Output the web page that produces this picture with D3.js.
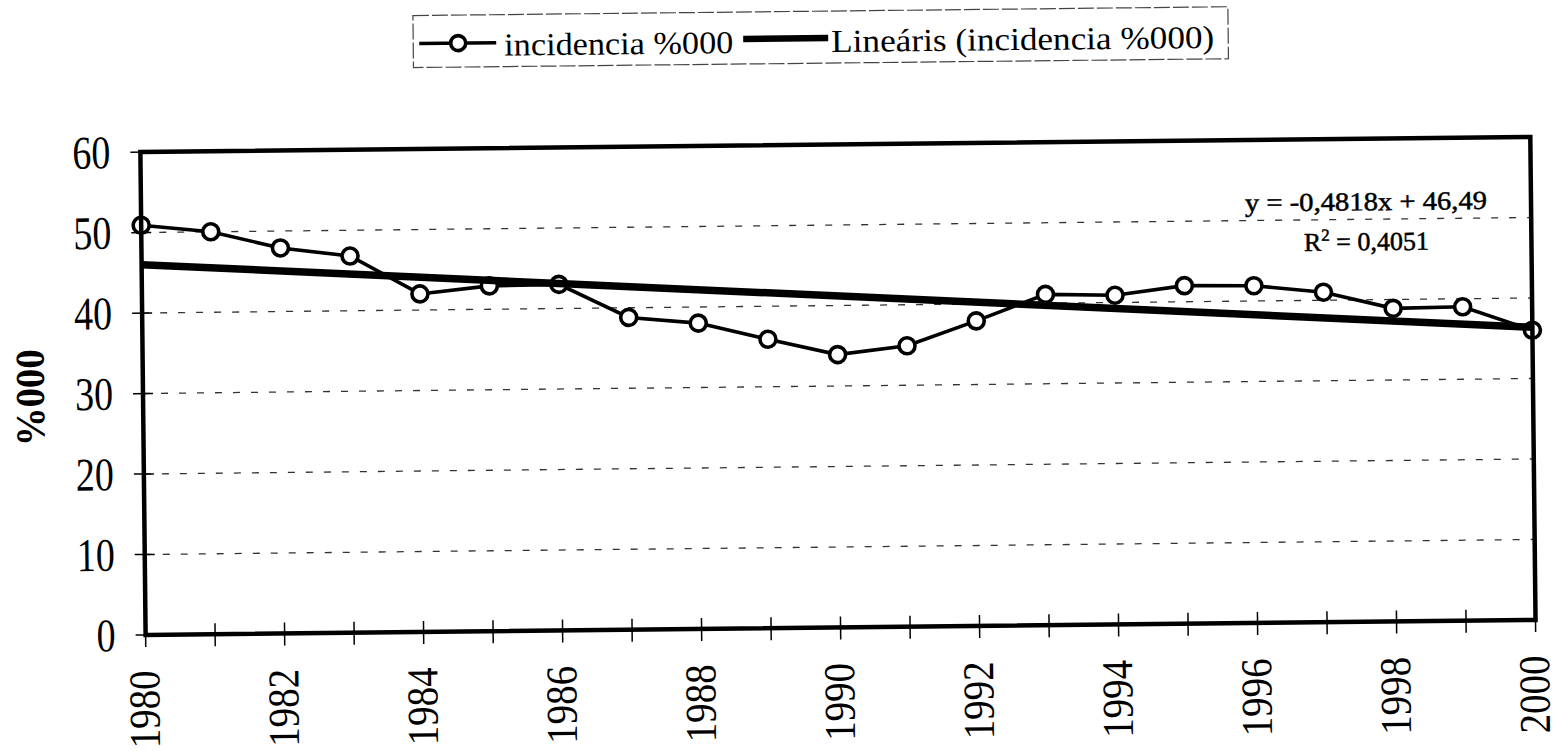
<!DOCTYPE html>
<html>
<head>
<meta charset="utf-8">
<script src="https://cdn.jsdelivr.net/npm/d3@7"></script>
<style>
  body { margin: 0; background: #fff; }
  text { font-family: "Liberation Serif", "Times New Roman", serif; fill: #000; }
</style>
</head>
<body>
<div id="vis"></div>
<script>
// Data
const years = [1980, 1981, 1982, 1983, 1984, 1985, 1986, 1987, 1988, 1989, 1990,
               1991, 1992, 1993, 1994, 1995, 1996, 1997, 1998, 1999, 2000];
const incidence = [50.9, 50.0, 47.9, 46.8, 42.0, 42.9, 43.0, 38.8, 38.0, 35.9, 33.9,
                   34.9, 37.9, 41.1, 40.9, 42.0, 41.9, 41.0, 38.9, 39.0, 36.0];
const yTicks = [0, 10, 20, 30, 40, 50, 60];
const xLabels = [1980, 1982, 1984, 1986, 1988, 1990, 1992, 1994, 1996, 1998, 2000];
// Excel linear trendline (x = 1..21)
const trendSlope = -0.4818, trendIntercept = 46.49;
const seriesName = 'incidencia %000';
const trendName = 'Lineáris (incidencia %000)';

const W = 1559, H = 751;
const plot = { left: 143, right: 1533, top: 144.5, bottom: 627.5 };

const svg = d3.select('#vis')
    .append('svg')
    .attr('width', W)
    .attr('height', H);

svg.append('rect').attr('width', W).attr('height', H).attr('fill', '#fff');

// the scan is tilted a little, so tilt the whole drawing the same way
const g = svg.append('g').attr('transform', 'rotate(-0.62, 838, 390)');

const xScale = d3.scaleLinear().domain([1980, 2000]).range([plot.left, plot.right]);
const yScale = d3.scaleLinear().domain([0, 60]).range([plot.bottom, plot.top]);

// dashed gridlines
g.selectAll('.grid')
    .data(yTicks.filter(d => d > 0 && d < 60))
    .enter()
    .append('line')
    .attr('class', 'grid')
    .attr('x1', plot.left).attr('x2', plot.right)
    .attr('y1', d => yScale(d)).attr('y2', d => yScale(d))
    .attr('stroke', '#333')
    .attr('stroke-width', 1.3)
    .attr('stroke-dasharray', '7,11');

// y ticks and labels
g.selectAll('.ytick')
    .data(yTicks)
    .enter()
    .append('line')
    .attr('x1', plot.left - 10).attr('x2', plot.left + 10)
    .attr('y1', d => yScale(d)).attr('y2', d => yScale(d))
    .attr('stroke', '#000').attr('stroke-width', 1.5);

g.selectAll('.ylabel')
    .data(yTicks)
    .enter()
    .append('text')
    .attr('x', 113)
    .attr('y', d => yScale(d))
    .attr('dy', '0.34em')
    .attr('text-anchor', 'end')
    .style('font-size', '47px')
    .attr('textLength', d => String(d).length * 19)
    .attr('lengthAdjust', 'spacingAndGlyphs')
    .text(d => d);

// x ticks every year, labels every second year
g.selectAll('.xtick')
    .data(years)
    .enter()
    .append('line')
    .attr('x1', d => xScale(d)).attr('x2', d => xScale(d))
    .attr('y1', plot.bottom - 11).attr('y2', plot.bottom + 12)
    .attr('stroke', '#000').attr('stroke-width', 1.5);

g.selectAll('.xlabel')
    .data(xLabels)
    .enter()
    .append('text')
    .attr('transform', d => `translate(${xScale(d)}, 663) rotate(-90)`)
    .attr('dy', '0.3em')
    .attr('text-anchor', 'end')
    .style('font-size', '44px')
    .attr('textLength', 78)
    .attr('lengthAdjust', 'spacingAndGlyphs')
    .text(d => d);

// y axis title
g.append('text')
    .attr('transform', 'translate(30, 389) rotate(-90)')
    .attr('dy', '0.34em')
    .attr('text-anchor', 'middle')
    .style('font-size', '41px')
    .style('font-weight', 'bold')
    .attr('textLength', 97)
    .attr('lengthAdjust', 'spacingAndGlyphs')
    .text('%000');

// series line with open circles
const line = d3.line()
    .x((d, i) => xScale(years[i]))
    .y(d => yScale(d));

g.append('path')
    .datum(incidence)
    .attr('d', line)
    .attr('fill', 'none')
    .attr('stroke', '#000')
    .attr('stroke-width', 3.6);

g.selectAll('.points')
    .data(incidence)
    .enter()
    .append('circle')
    .attr('class', 'points')
    .attr('cx', (d, i) => xScale(years[i]))
    .attr('cy', d => yScale(d))
    .attr('r', 8)
    .attr('fill', '#fff')
    .attr('stroke', '#000')
    .attr('stroke-width', 3.6);

// trendline on top
const trendEnds = [years[0], years[years.length - 1]];
g.append('line')
    .attr('x1', xScale(trendEnds[0]))
    .attr('x2', xScale(trendEnds[1]))
    .attr('y1', yScale(trendIntercept + trendSlope * 1))
    .attr('y2', yScale(trendIntercept + trendSlope * years.length))
    .attr('stroke', '#000')
    .attr('stroke-width', 7.5);

// plot frame
g.append('rect')
    .attr('x', plot.left).attr('y', plot.top)
    .attr('width', plot.right - plot.left)
    .attr('height', plot.bottom - plot.top)
    .attr('fill', 'none')
    .attr('stroke', '#000')
    .attr('stroke-width', 4.5);

// equation label
g.append('text')
    .attr('x', 1368).attr('y', 216)
    .attr('text-anchor', 'middle')
    .style('font-size', '26px')
    .attr('stroke', '#000').attr('stroke-width', 0.5)
    .attr('textLength', 242)
    .attr('lengthAdjust', 'spacingAndGlyphs')
    .text('y = -0,4818x + 46,49');

const r2 = g.append('text')
    .attr('x', 1368).attr('y', 256)
    .attr('text-anchor', 'middle')
    .attr('stroke', '#000').attr('stroke-width', 0.5)
    .style('font-size', '26px');
r2.append('tspan').text('R');
r2.append('tspan').attr('dy', -10).style('font-size', '17px').text('2');
r2.append('tspan').attr('dy', 10).text(' = 0,4051');

// legend
function createLegend() {
    const lg = g.append('g');
    lg.append('rect')
        .attr('x', 417).attr('y', 11)
        .attr('width', 815).attr('height', 52)
        .attr('fill', 'none')
        .attr('stroke', '#444')
        .attr('stroke-width', 1.2)
        .attr('stroke-dasharray', '16,3');

    lg.append('line')
        .attr('x1', 423).attr('x2', 500).attr('y1', 39).attr('y2', 39)
        .attr('stroke', '#000').attr('stroke-width', 3.6);
    lg.append('circle')
        .attr('cx', 462).attr('cy', 39).attr('r', 7.5)
        .attr('fill', '#fff').attr('stroke', '#000').attr('stroke-width', 3.6);
    lg.append('text')
        .attr('x', 508).attr('y', 52)
        .style('font-size', '32px')
        .attr('textLength', 229)
        .attr('lengthAdjust', 'spacingAndGlyphs')
        .text(seriesName);

    lg.append('line')
        .attr('x1', 747).attr('x2', 832).attr('y1', 38).attr('y2', 38)
        .attr('stroke', '#000').attr('stroke-width', 6.5);
    lg.append('text')
        .attr('x', 835).attr('y', 52)
        .style('font-size', '32px')
        .attr('textLength', 383)
        .attr('lengthAdjust', 'spacingAndGlyphs')
        .text(trendName);
}

createLegend();
</script>
</body>
</html>
